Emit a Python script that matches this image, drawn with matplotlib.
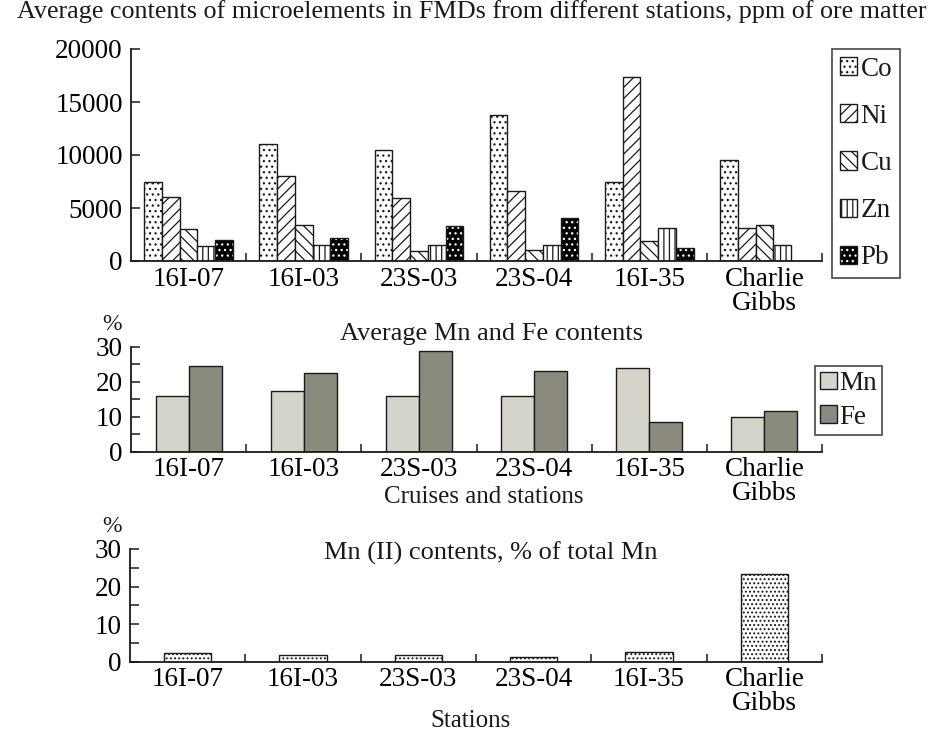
import numpy as np
import matplotlib
matplotlib.use("Agg")
import matplotlib.pyplot as plt
from matplotlib.patches import Patch

plt.rcParams['font.family'] = ['Liberation Serif', 'DejaVu Serif']
plt.rcParams['hatch.linewidth'] = 0.9
plt.rcParams['text.color'] = '#1a1a1a'

stations = ['16I-07', '16I-03', '23S-03', '23S-04', '16I-35', 'Charlie\nGibbs']

# ppm of ore matter
co = [7500, 11000, 10500, 13800, 7500, 9550]
ni = [6000, 8000, 5900, 6650, 17350, 3150]
cu = [3000, 3350, 950, 1050, 1850, 3350]
zn = [1450, 1500, 1500, 1550, 3150, 1550]
pb = [1950, 2150, 3300, 4100, 1250, 0]

# %
mn = [16.0, 17.3, 16.0, 16.0, 23.8, 10.0]
fe = [24.5, 22.4, 28.7, 23.0, 8.5, 11.6]

# Mn(II), % of total Mn
mn2 = [2.2, 1.8, 1.8, 1.2, 2.6, 23.3]

x = np.arange(len(stations))
dark = '#1a1a1a'
fs = 19.5

fig = plt.figure(figsize=(9.4, 7.43), dpi=100)


def style_axis(ax, ymax, ymajor, yminor=None):
    for s in ['top', 'right']:
        ax.spines[s].set_visible(False)
    for s in ['left', 'bottom']:
        ax.spines[s].set_linewidth(1.3)
        ax.spines[s].set_color(dark)
    ax.set_xlim(-0.5, 5.5)
    ax.set_ylim(0, ymax)
    ax.set_yticks(np.arange(0, ymax + 1, ymajor))
    if yminor:
        ax.set_yticks(np.arange(yminor, ymax, ymajor), minor=True)
    ax.set_xticks(x + 0.5)
    ax.set_xticklabels([])
    ax.set_xticks(x, minor=True)
    ax.set_xticklabels(stations, minor=True, fontsize=fs, linespacing=0.95)
    ax.tick_params(axis='x', which='major', direction='in', length=6, width=1.1, color=dark)
    ax.tick_params(axis='x', which='minor', length=0, pad=4)
    ax.tick_params(axis='y', which='both', direction='in', length=6.5, width=1.1,
                   color=dark, labelsize=fs, pad=6)


# --- top panel ---
ax1 = fig.add_axes([131/940, 1-261/743, 691/940, 212/743])
w = 0.154
series = [co, ni, cu, zn]
hatches = ['...', '///', '\\\\\\', '|||']
for k, (vals, h) in enumerate(zip(series, hatches)):
    ax1.bar(x + (k - 2) * w, vals, w, facecolor='white', edgecolor=dark,
            hatch=h, linewidth=1.0)
ax1.bar(x + 2 * w, pb, w, facecolor='black', edgecolor='white', hatch='...', linewidth=0)
ax1.bar(x + 2 * w, pb, w, fill=False, edgecolor=dark, linewidth=1.0)
style_axis(ax1, 20000, 5000)

h_top = [Patch(facecolor='white', edgecolor=dark, hatch=h) for h in hatches]
h_top.append((Patch(facecolor='black', edgecolor='white', hatch='...', linewidth=0),
              Patch(fill=False, edgecolor=dark)))
leg1 = fig.legend(h_top, ['Co', 'Ni', 'Cu', 'Zn', 'Pb'],
                  loc='upper left', bbox_to_anchor=(832/940, 1-49/743),
                  fontsize=fs, frameon=True, fancybox=False, edgecolor=dark,
                  handlelength=0.65, handleheight=0.65, handletextpad=0.12,
                  labelspacing=0.82, borderpad=0.28, borderaxespad=0)
leg1.get_frame().set_linewidth(1.2)
fig.text(472/940, 1-12/743, 'Average contents of microelements in FMDs from different stations, '
         'ppm of ore matter', ha='center', va='center', fontsize=18.8)

# --- middle panel ---
ax2 = fig.add_axes([131/940, 1-451.7/743, 691/940, 105/743])
wm = 0.287
ax2.bar(x - wm/2, mn, wm, facecolor='#d4d4cb', edgecolor=dark, linewidth=1.0, label='Mn')
ax2.bar(x + wm/2, fe, wm, facecolor='#8a8a7f', edgecolor=dark, linewidth=1.0, label='Fe')
style_axis(ax2, 30, 10, 5)
leg2 = fig.legend(loc='upper left', bbox_to_anchor=(815/940, 1-366/743),
                  fontsize=fs, frameon=True, fancybox=False, edgecolor=dark,
                  handlelength=0.6, handleheight=0.6, handletextpad=0.1,
                  labelspacing=0.3, borderpad=0.2, borderaxespad=0)
leg2.get_frame().set_linewidth(1.2)
fig.text(492/940, 1-334/743, 'Average Mn and Fe contents', ha='center', va='center',
         fontsize=19)
fig.text(112/940, 1-324/743, '%', ha='center', va='center', fontsize=17)
fig.text(484/940, 1-497/743, 'Cruises and stations', ha='center', va='center',
         fontsize=18)

# --- bottom panel ---
ax3 = fig.add_axes([130/940, 1-661.7/743, 692/940, 112.7/743])
ax3.bar(x, mn2, 0.41, facecolor='white', edgecolor=dark, hatch='....', linewidth=1.0)
style_axis(ax3, 30, 10, 5)
fig.text(491/940, 1-553/743, 'Mn (II) contents, % of total Mn', ha='center', va='center',
         fontsize=19)
fig.text(112/940, 1-526/743, '%', ha='center', va='center', fontsize=17)
fig.text(470/940, 1-721/743, 'Stations', ha='center', va='center', fontsize=18)

fig.savefig('out.png', dpi=100)
